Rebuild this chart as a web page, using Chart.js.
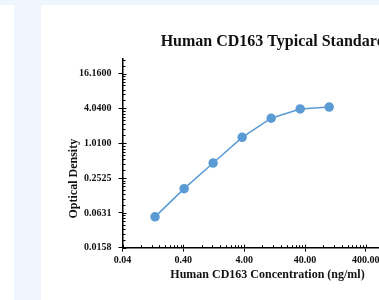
<!DOCTYPE html>
<html>
<head>
<meta charset="utf-8">
<script src="https://cdn.jsdelivr.net/npm/chart.js@4/dist/chart.umd.min.js"></script>
<style>
  html, body { margin: 0; padding: 0; width: 379px; height: 300px; overflow: hidden; background: #eff6fe; }
  #strip { position: absolute; left: 0; top: 5px; width: 14px; height: 295px; background: #fff; }
  #panel { position: absolute; left: 41px; top: 5px; width: 520px; height: 295px; background: #fff; }
  canvas { display: block; }
</style>
</head>
<body>
<div id="strip"></div>
<div id="panel"><canvas id="chart" width="511" height="295"></canvas></div>
<script>
// standard curve values
const concentrations = [0.137, 0.412, 1.235, 3.704, 11.11, 33.33, 100];
const opticalDensity = [0.054, 0.166, 0.46, 1.28, 2.74, 3.97, 4.28];

// tick labels
const xTicks = [0.04, 0.4, 4, 40, 400, 4000];
const yTicks = [0.0158, 0.0631, 0.2525, 1.01, 4.04, 16.16];

const serif = '"Liberation Serif", "Times New Roman", serif';

// short minor ticks + inward halves of the major ticks, and the axis titles
const axisDecor = {
  id: 'axisDecor',
  afterDraw(chart) {
    const ctx = chart.ctx;
    const xs = chart.scales.x, ys = chart.scales.y;
    const area = chart.chartArea;
    ctx.save();
    ctx.strokeStyle = '#000';
    ctx.lineWidth = 1;
    ctx.beginPath();
    // x minor ticks (2..9 per decade)
    xTicks.forEach(d => {
      const px = Math.round(xs.getPixelForValue(d)) + 0.5;
      ctx.moveTo(px, area.bottom); ctx.lineTo(px, area.bottom - 3);
      for (let k = 2; k <= 9; k++) {
        const v = d * k;
        if (v > xs.max) continue;
        const p = Math.round(xs.getPixelForValue(v)) + 0.5;
        ctx.moveTo(p, area.bottom); ctx.lineTo(p, area.bottom - 2.5);
      }
    });
    // y minor ticks (linear steps inside each x4 interval)
    yTicks.forEach(t => {
      const py = Math.round(ys.getPixelForValue(t)) + 0.5;
      ctx.moveTo(area.left, py); ctx.lineTo(area.left + 4, py);
      for (let k = 1; k < 8; k++) {
        const v = t * (1 + 3 * k / 8);
        if (v > ys.max) continue;
        const p = Math.round(ys.getPixelForValue(v)) + 0.5;
        ctx.moveTo(area.left, p); ctx.lineTo(area.left + 3, p);
      }
    });
    ctx.stroke();

    ctx.fillStyle = '#111';
    ctx.font = 'bold 12px ' + serif;
    ctx.textAlign = 'center';
    ctx.textBaseline = 'middle';
    ctx.fillText('Human CD163 Concentration (ng/ml)', area.left + 145, area.bottom + 27.5);
    ctx.translate(area.left - 49, area.bottom - 69);
    ctx.rotate(-Math.PI / 2);
    ctx.fillText('Optical Density', 0, 0);
    ctx.restore();
  }
};

new Chart(document.getElementById('chart'), {
  type: 'scatter',
  data: {
    datasets: [{
      data: concentrations.map((c, i) => ({ x: c, y: opticalDensity[i] })),
      showLine: true,
      borderColor: '#5b9bd5',
      backgroundColor: '#5b9bd5',
      borderWidth: 1.5,
      pointRadius: 4,
      pointHoverRadius: 4,
      tension: 0
    }]
  },
  options: {
    responsive: false,
    animation: false,
    devicePixelRatio: 1,
    layout: { padding: 0 },
    plugins: {
      legend: { display: false },
      tooltip: { enabled: false },
      title: {
        display: true,
        text: 'Human CD163 Typical Standard Curve',
        color: '#111',
        font: { family: serif, size: 16, weight: 'bold', lineHeight: 1.2 },
        padding: { top: 27.5, bottom: 7.3 }
      }
    },
    scales: {
      x: {
        type: 'logarithmic',
        min: 0.04,
        max: 373000,
        afterBuildTicks: s => { s.ticks = xTicks.map(v => ({ value: v })); },
        afterFit: s => { s.height = 52.3; },
        ticks: {
          color: '#111',
          font: { family: serif, size: 10, weight: 'bold' },
          padding: 3,
          maxRotation: 0,
          autoSkip: false,
          callback: v => Number(v).toFixed(2)
        },
        grid: { drawOnChartArea: false, drawTicks: true, tickLength: 4, tickColor: '#000', tickWidth: 1 },
        border: { display: true, color: '#000', width: 1.5 }
      },
      y: {
        type: 'logarithmic',
        min: 0.0158,
        max: 29,
        afterBuildTicks: s => { s.ticks = yTicks.map(v => ({ value: v })); },
        afterFit: s => { s.width = 81.5; },
        ticks: {
          color: '#111',
          font: { family: serif, size: 10, weight: 'bold' },
          padding: 7,
          autoSkip: false,
          callback: v => Number(v).toFixed(4)
        },
        grid: { drawOnChartArea: false, drawTicks: true, tickLength: 4, tickColor: '#000', tickWidth: 1 },
        border: { display: true, color: '#000', width: 1.5 }
      }
    }
  },
  plugins: [axisDecor]
});
</script>
</body>
</html>
